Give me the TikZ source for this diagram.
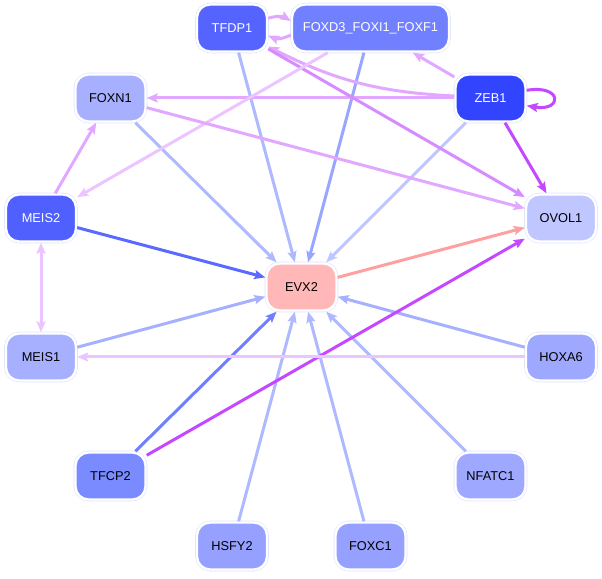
\documentclass[tikz,border=0pt]{standalone}
\usepackage{fontspec}
\setmainfont{Liberation Sans}
\usetikzlibrary{arrows.meta}

\definecolor{ringc}{RGB}{222,226,255}
\definecolor{nzeb}{RGB}{51,68,255}
\definecolor{ntfdp}{RGB}{85,100,255}
\definecolor{nmeistwo}{RGB}{80,96,255}
\definecolor{nfoxd}{RGB}{112,128,255}
\definecolor{ntfcp}{RGB}{122,138,255}
\definecolor{nmid}{RGB}{150,160,255}
\definecolor{nhox}{RGB}{158,168,255}
\definecolor{nlight}{RGB}{166,176,255}
\definecolor{novol}{RGB}{192,198,255}
\definecolor{nevx}{RGB}{255,183,183}
\definecolor{eblue}{RGB}{175,185,255}
\definecolor{ebluemid}{RGB}{152,166,255}
\definecolor{ebluedark}{RGB}{90,105,255}
\definecolor{eblueb}{RGB}{112,127,255}
\definecolor{epale}{RGB}{192,198,255}
\definecolor{esalmon}{RGB}{255,160,160}
\definecolor{epurple}{RGB}{196,72,255}
\definecolor{emauve}{RGB}{214,140,255}
\definecolor{elilac}{RGB}{226,168,255}
\definecolor{elilacpale}{RGB}{236,196,255}

\tikzset{
  gene/.style={rounded corners=13pt, minimum width=70pt, minimum height=47pt,
    inner sep=3pt, fill=#1, draw=white, line width=2.4pt,
    preaction={draw=ringc, line width=3.6pt},
    font=\fontsize{12.8}{14}\selectfont},
  edge/.style={draw=#1, line width=3pt, -{Stealth[length=11pt,width=9pt,inset=2pt]}},
}

\begin{document}
\begin{tikzpicture}[x=1pt,y=1pt]
    \useasboundingbox (0,0) rectangle (602,578);

    % genes
    \node[gene=ntfdp, text=white] (tfdp1) at (232,550) {TFDP1};
    \node[gene=nfoxd, text=white, minimum width=157pt] (foxd3) at (370.5,550) {FOXD3\_FOXI1\_FOXF1};
    \node[gene=nzeb, text=white] (zeb1) at (490.5,480) {ZEB1};
    \node[gene=nlight] (foxn1) at (110.5,480) {FOXN1};
    \node[gene=nmeistwo, text=white] (meis2) at (41,360) {MEIS2};
    \node[gene=novol] (ovol1) at (561,360) {OVOL1};
    \node[gene=nevx] (evx2) at (301.5,291) {EVX2};
    \node[gene=nlight] (meis1) at (41,221) {MEIS1};
    \node[gene=nhox] (hoxa6) at (561,221) {HOXA6};
    \node[gene=ntfcp] (tfcp2) at (110.5,102) {TFCP2};
    \node[gene=nhox] (nfatc1) at (490.5,102) {NFATC1};
    \node[gene=nmid] (hsfy2) at (232,32) {HSFY2};
    \node[gene=nmid] (foxc1) at (370.5,32) {FOXC1};

    % regulation of EVX2
    \draw[edge=eblue] (tfdp1) -- (evx2);
    \draw[edge=ebluemid] (foxd3) -- (evx2);
    \draw[edge=eblue] (foxn1) -- (evx2);
    \draw[edge=ebluedark] (meis2) -- (evx2);
    \draw[edge=epale] (zeb1) -- (evx2);
    \draw[edge=nlight] (meis1) -- (evx2);
    \draw[edge=nlight] (hoxa6) -- (evx2);
    \draw[edge=eblueb] (tfcp2) -- (evx2);
    \draw[edge=eblue] (nfatc1) -- (evx2);
    \draw[edge=eblue] (hsfy2) -- (evx2);
    \draw[edge=eblue] (foxc1) -- (evx2);

    % other links
    \draw[edge=esalmon] (evx2) -- (ovol1);
    \draw[edge=epurple] (tfcp2) -- (ovol1);
    \draw[edge=epurple] (zeb1) -- (ovol1);
    \draw[edge=epurple] (zeb1.12) .. controls +(36,6) and +(36,-6) .. (zeb1.-12);
    \draw[edge=elilac] (zeb1) -- (foxn1);
    \draw[edge=elilac] (zeb1) -- (foxd3);
    \draw[edge=elilac] (zeb1) to[bend left=12] (tfdp1);
    \draw[edge=emauve] (tfdp1) -- (ovol1);
    \draw[edge=elilac] (tfdp1.15) to[bend left=25] (foxd3.175);
    \draw[edge=elilac] (foxd3.185) to[bend left=25] (tfdp1.-12);
    \draw[edge=elilacpale] (foxd3) -- (meis2);
    \draw[edge=elilac] (foxn1) -- (ovol1);
    \draw[edge=elilac] (meis2) -- (foxn1);
    \draw[edge=elilacpale, {Stealth[length=11pt,width=9pt,inset=2pt]}-{Stealth[length=11pt,width=9pt,inset=2pt]}] (meis2) -- (meis1);
    \draw[edge=elilacpale] (hoxa6) -- (meis1);
\end{tikzpicture}
\end{document}
